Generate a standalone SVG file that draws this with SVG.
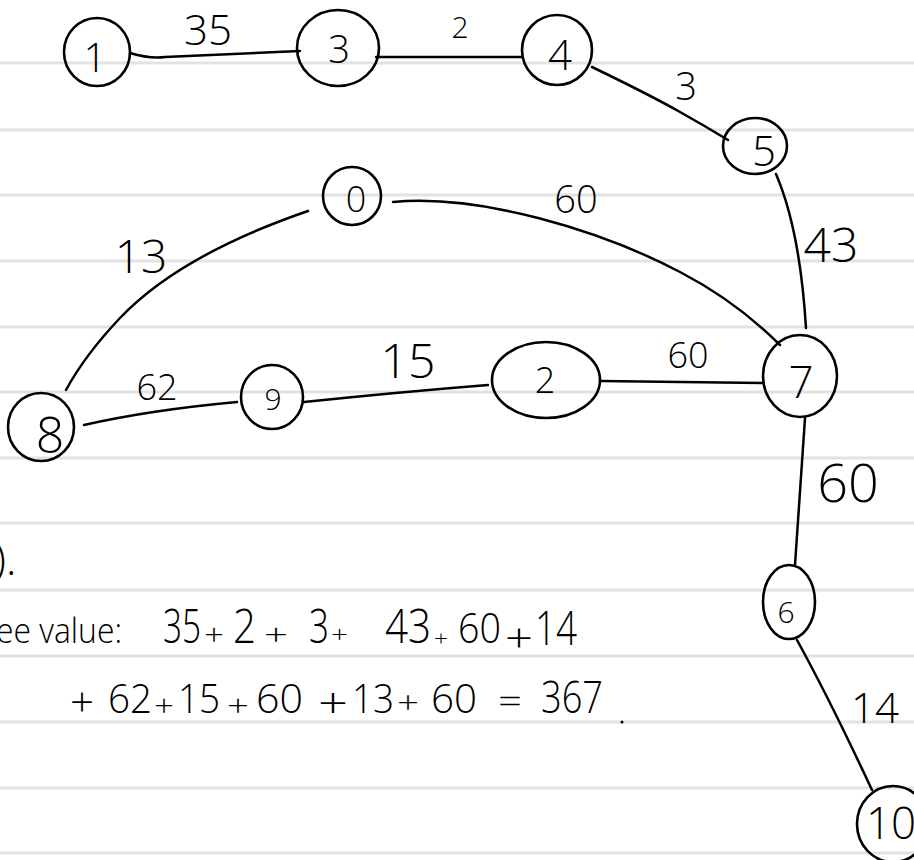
<svg xmlns="http://www.w3.org/2000/svg" width="914" height="860" viewBox="0 0 914 860">
<style>
.rule{stroke:#e2e2e2;stroke-width:3;fill:none}
.node ellipse{fill:none;stroke:#000;stroke-width:2.6}
.lbl{font-family:"Open Sans","Liberation Sans",sans-serif;font-weight:300;fill:#000;text-anchor:middle}
.edge{fill:none;stroke:#000;stroke-width:2.5;stroke-linecap:round}
.w{font-family:"Open Sans","Liberation Sans",sans-serif;font-weight:300;fill:#000}
</style>
<rect width="914" height="860" fill="#fff"/>
<g id="ruled">
<line class="rule" x1="0" y1="63" x2="914" y2="63"/>
<line class="rule" x1="0" y1="130" x2="914" y2="130"/>
<line class="rule" x1="0" y1="195" x2="914" y2="195"/>
<line class="rule" x1="0" y1="261" x2="914" y2="261"/>
<line class="rule" x1="0" y1="327" x2="914" y2="327"/>
<line class="rule" x1="0" y1="392" x2="914" y2="392"/>
<line class="rule" x1="0" y1="458" x2="914" y2="458"/>
<line class="rule" x1="0" y1="523" x2="914" y2="523"/>
<line class="rule" x1="0" y1="590" x2="914" y2="590"/>
<line class="rule" x1="0" y1="656" x2="914" y2="656"/>
<line class="rule" x1="0" y1="722" x2="914" y2="722"/>
<line class="rule" x1="0" y1="788" x2="914" y2="788"/>
<line class="rule" x1="0" y1="853" x2="914" y2="853"/>
</g>
<g id="connectors">
<path class="edge" d="M130,53 Q150,59 165,57 L300,51"/>
<path class="edge" d="M376,57 L522,57"/>
<path class="edge" d="M592,67 Q650,95 680,112 Q705,126 728,140"/>
<path class="edge" d="M776,174 Q800,230 806,328"/>
<path class="edge" d="M393,202 C480,194 600,230 680,272 C730,298 760,325 780,345"/>
<path class="edge" d="M308,211 Q180,255 120,318 Q85,355 66,390"/>
<path class="edge" d="M84,425 Q150,410 237,402"/>
<path class="edge" d="M304,402 Q400,392 488,385"/>
<path class="edge" d="M600,381 L762,383"/>
<path class="edge" d="M805,418 L795,565"/>
<path class="edge" d="M797,640 Q830,700 872,790"/>
</g>
<g id="node-1" class="node"><ellipse cx="97" cy="52" rx="33" ry="34"/><text class="lbl" x="95" y="72" font-size="40">1</text></g>
<g id="node-3" class="node"><ellipse cx="338" cy="48" rx="41" ry="38"/><text class="lbl" x="339" y="63" font-size="38">3</text></g>
<g id="node-4" class="node"><ellipse cx="557" cy="50" rx="35" ry="35"/><text class="lbl" x="560" y="70" font-size="42">4</text></g>
<g id="node-5" class="node"><ellipse cx="755" cy="146" rx="32" ry="28"/><text class="lbl" x="764" y="166" font-size="42">5</text></g>
<g id="node-0" class="node"><ellipse cx="352" cy="196" rx="29" ry="29"/><text class="lbl" x="356" y="212" font-size="36">0</text></g>
<g id="node-8" class="node"><ellipse cx="41" cy="427" rx="33" ry="34"/><text class="lbl" x="50" y="453" font-size="50">8</text></g>
<g id="node-9" class="node"><ellipse cx="272" cy="397" rx="31" ry="32"/><text class="lbl" x="273" y="410" font-size="30">9</text></g>
<g id="node-2" class="node"><ellipse cx="546" cy="380" rx="54" ry="38"/><text class="lbl" x="545" y="393" font-size="36">2</text></g>
<g id="node-7" class="node"><ellipse cx="800" cy="376" rx="37" ry="41"/><text class="lbl" x="801" y="398" font-size="44">7</text></g>
<g id="node-6" class="node"><ellipse cx="789" cy="602" rx="26" ry="37"/><text class="lbl" x="786" y="623" font-size="30">6</text></g>
<g id="node-10" class="node"><ellipse cx="893" cy="824" rx="36" ry="38"/><text class="lbl" x="891" y="839" font-size="44">10</text></g>
<g id="edge-labels">
<text class="lbl" x="208" y="45" font-size="42">35</text>
<text class="lbl" x="460" y="38" font-size="30">2</text>
<text class="lbl" x="686" y="100" font-size="38">3</text>
<text class="lbl" x="831" y="262" font-size="48">43</text>
<text class="lbl" x="576" y="213" font-size="38">60</text>
<text class="lbl" x="141" y="273" font-size="46">13</text>
<text class="lbl" x="157" y="400" font-size="36">62</text>
<text class="lbl" x="408" y="378" font-size="48">15</text>
<text class="lbl" x="688" y="368" font-size="36">60</text>
<text class="lbl" x="848" y="502" font-size="54">60</text>
<text class="lbl" x="875" y="723" font-size="42">14</text>
</g>
<g id="notes">
<text class="w" x="-6" y="575" font-size="44">).</text>
<text class="w" x="-4" y="643" font-size="34" textLength="126" lengthAdjust="spacingAndGlyphs">ee value:</text>
<g font-size="48">
<text class="w" x="163" y="643" textLength="38" lengthAdjust="spacingAndGlyphs">35</text>
<text class="w" x="204" y="645" font-size="30" textLength="20" lengthAdjust="spacingAndGlyphs">+</text>
<text class="w" x="233" y="643" textLength="23" lengthAdjust="spacingAndGlyphs">2</text>
<text class="w" x="264" y="645" font-size="30" textLength="24" lengthAdjust="spacingAndGlyphs">+</text>
<text class="w" x="309" y="643" textLength="20" lengthAdjust="spacingAndGlyphs">3</text>
<text class="w" x="331" y="643" font-size="24" textLength="17" lengthAdjust="spacingAndGlyphs">+</text>
<text class="w" x="385" y="643" textLength="46" lengthAdjust="spacingAndGlyphs">43</text>
<text class="w" x="434" y="646" font-size="22" textLength="14" lengthAdjust="spacingAndGlyphs">+</text>
<text class="w" x="458" y="643" font-size="42" textLength="43" lengthAdjust="spacingAndGlyphs">60</text>
<text class="w" x="505" y="652" font-size="40" textLength="28" lengthAdjust="spacingAndGlyphs">+</text>
<text class="w" x="535" y="645" textLength="42" lengthAdjust="spacingAndGlyphs">14</text>
</g>
<g font-size="40">
<text class="w" x="70" y="716" textLength="24" lengthAdjust="spacingAndGlyphs">+</text>
<text class="w" x="108" y="713" textLength="44" lengthAdjust="spacingAndGlyphs">62</text>
<text class="w" x="154" y="716" font-size="30" textLength="20" lengthAdjust="spacingAndGlyphs">+</text>
<text class="w" x="178" y="713" textLength="42" lengthAdjust="spacingAndGlyphs">15</text>
<text class="w" x="227" y="716" font-size="30" textLength="22" lengthAdjust="spacingAndGlyphs">+</text>
<text class="w" x="256" y="713" textLength="47" lengthAdjust="spacingAndGlyphs">60</text>
<text class="w" x="318" y="718" font-size="42" textLength="30" lengthAdjust="spacingAndGlyphs">+</text>
<text class="w" x="352" y="713" textLength="42" lengthAdjust="spacingAndGlyphs">13</text>
<text class="w" x="397" y="714" font-size="32" textLength="22" lengthAdjust="spacingAndGlyphs">+</text>
<text class="w" x="431" y="713" textLength="46" lengthAdjust="spacingAndGlyphs">60</text>
<text class="w" x="498" y="713" font-size="34" textLength="24" lengthAdjust="spacingAndGlyphs">=</text>
<text class="w" x="541" y="713" font-size="44" textLength="62" lengthAdjust="spacingAndGlyphs">367</text>
</g>
<circle cx="622" cy="722" r="1.5" fill="#000"/>
</g>
</svg>
